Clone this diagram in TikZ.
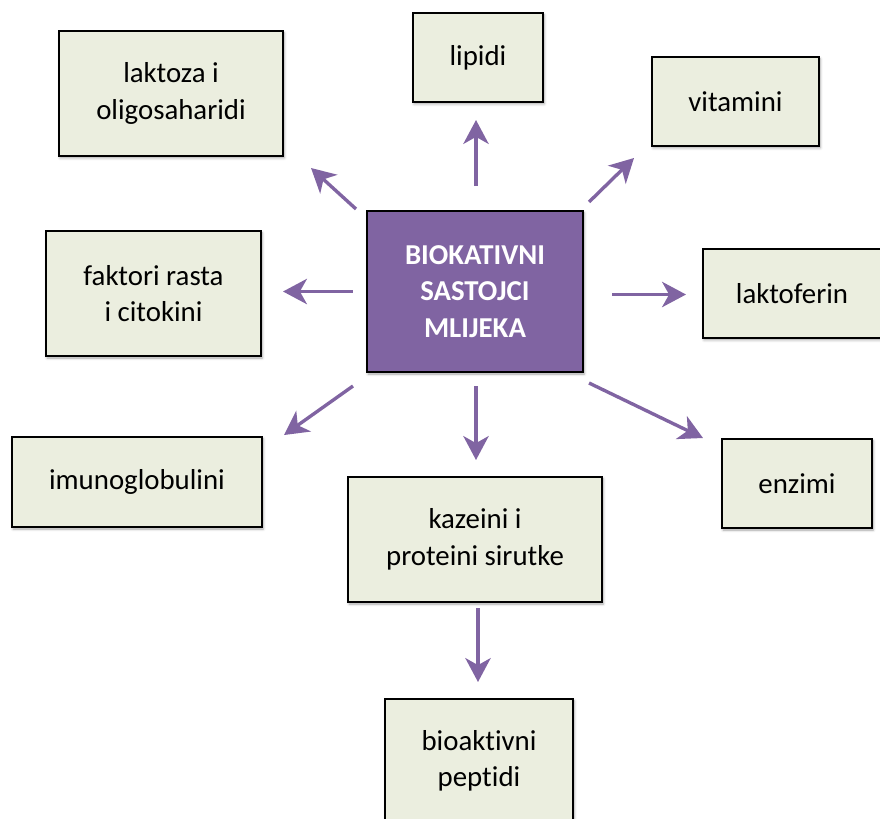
\documentclass[tikz,border=0pt]{standalone}
\usepackage{fontspec}
\setmainfont{Carlito}[Ligatures={NoCommon}]
\usetikzlibrary{arrows.meta}
\usetikzlibrary{shadows.blur}
\usepackage{xcolor}
\definecolor{boxgreen}{HTML}{EBEEDF}
\definecolor{milkpurple}{HTML}{8064A2}

\tikzset{
  item/.style={draw=black, line width=1.4pt, fill=boxgreen, align=center, inner sep=0pt,
    font=\fontsize{20.5}{26}\selectfont,
    blur shadow={shadow xshift=0.8pt, shadow yshift=-1.4pt, shadow blur steps=6, shadow opacity=35}},
  core/.style={item, fill=milkpurple, text=white, font=\fontsize{20.5}{26}\selectfont\bfseries},
  link/.style={draw=milkpurple, line width=2.4pt, -{Stealth[length=17pt,width=18pt,inset=5pt]}},
}

\begin{document}
\begin{tikzpicture}[x=0.025cm, y=-0.025cm]
\useasboundingbox (0,0) rectangle (880,818);

% central box
\node[core, minimum width=5.4cm, minimum height=4.025cm] (mid) at (475,291.5) {BIOKATIVNI\\SASTOJCI\\MLIJEKA};

% boxes around the centre
\node[item, minimum width=5.6cm,  minimum height=3.125cm] (lak) at (171,93.5)   {laktoza i\\oligosaharidi};
\node[item, minimum width=3.25cm, minimum height=2.225cm] (lip) at (478,57.5)   {lipidi};
\node[item, minimum width=4.175cm,minimum height=2.225cm] (vit) at (735.5,101.5) {vitamini};
\node[item, minimum width=5.375cm,minimum height=3.125cm] (fak) at (153.5,293.5) {faktori rasta\\i citokini};
\node[item, minimum width=4.45cm, minimum height=2.225cm] (lf)  at (792,293.5)   {laktoferin};
\node[item, minimum width=6.25cm, minimum height=2.25cm]  (imu) at (137,482)     {imunoglobulini};
\node[item, minimum width=3.75cm, minimum height=2.225cm] (enz) at (797,483.5)   {enzimi};
\node[item, minimum width=6.35cm, minimum height=3.125cm] (kaz) at (475,539.5)   {kazeini i\\proteini sirutke};
\node[item, minimum width=4.7cm,  minimum height=3.1cm]   (bio) at (479,761)     {bioaktivni\\peptidi};

% arrows out of the centre
\draw[link] ([shift={(-10,-1)}]mid.north west) -- ([shift={(27,11)}]lak.south east);
\draw[link] ([shift={(1,-24)}]mid.north) -- ([shift={(1,17)}]mid.north |- lip.south);
\draw[link] ([shift={(5,-8)}]mid.north east) -- ([shift={(-17,11)}]vit.south west);
\draw[link] ([shift={(-13,0)}]mid.west) -- ([shift={(21,0)}]mid.west -| fak.east);
\draw[link] ([shift={(28,3)}]mid.east) -- ([shift={(-16,3)}]mid.east -| lf.west);
\draw[link] ([shift={(-13,13)}]mid.south west) -- ([shift={(21,-1)}]imu.north east);
\draw[link] ([shift={(5,10)}]mid.south east) -- ([shift={(-18,0)}]enz.north west);
\draw[link] ([shift={(1,13)}]mid.south) -- ([shift={(1,-16)}]mid.south |- kaz.north);

% casein to peptides
\draw[link] ([shift={(3,5)}]kaz.south) -- ([shift={(3,-16)}]kaz.south |- bio.north);

\end{tikzpicture}
\end{document}
